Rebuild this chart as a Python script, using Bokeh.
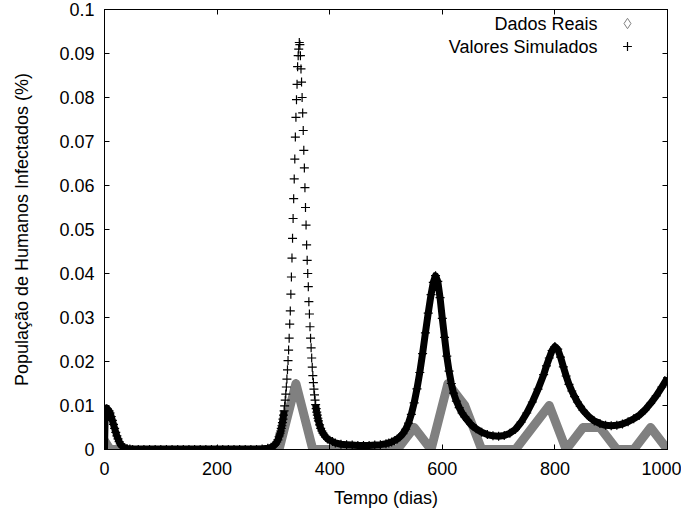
from bokeh.plotting import figure
from bokeh.models import (Range1d, LinearAxis, Legend, LegendItem, FixedTicker, Label,
                          CustomJSTickFormatter)
from bokeh.embed import file_html
from bokeh.resources import INLINE

# ---- data ----
real_x = [0, 10, 40, 70, 100, 130, 160, 190, 220, 250, 280, 310, 340, 370, 400, 430, 460,
          490, 520, 550, 580, 610, 640, 670, 700, 730, 760, 790, 820, 850, 880, 910, 940,
          970, 1000]
real_y = [0.002, 0, 0, 0, 0, 0, 0, 0, 0, 0, 0, 0, 0.015, 0, 0, 0, 0,
          0, 0, 0.005, 0, 0.015, 0.010, 0, 0, 0, 0.005, 0.010, 0, 0.005, 0.005, 0, 0,
          0.005, 0]

sim_x = [0, 1, 3, 5, 8, 10, 12, 14, 16, 18, 20, 22, 24, 26, 28, 30, 33, 36, 40, 45, 50,
         60, 70, 80, 90, 100, 110, 120, 130, 140, 150, 160, 170, 180, 190, 200, 210, 220,
         230, 240, 250, 260, 270, 280, 290, 296, 300, 302, 304, 306, 308, 310,
         311, 312, 313, 314, 315, 316, 317, 318, 319, 320, 321, 322, 323, 324, 325, 326,
         327, 328, 329, 330, 331, 332, 333, 334, 335, 336, 337, 338, 339, 340, 341, 342,
         343, 344, 345, 346, 347, 348, 349, 350, 351, 352, 353, 354, 355, 356, 357, 358,
         359, 360, 361, 362, 363, 364, 365, 366, 367, 368, 369, 370, 371, 372, 373, 374,
         375, 376, 377, 378, 379, 380, 382, 384, 386, 388, 390, 393, 396, 400, 405, 410,
         420, 430, 440, 450, 460, 470, 480, 490, 500, 505, 510, 515, 520, 525, 530, 535,
         540, 545, 550, 555, 560, 565, 570, 575, 580, 584, 588, 592, 596, 600, 604, 608,
         612, 616, 620, 625, 630, 635, 640, 645, 650, 655, 660, 670, 680, 690, 700, 710,
         720, 730, 740, 750, 760, 770, 780, 785, 790, 795, 800, 805, 810, 815, 820, 825,
         830, 835, 840, 845, 850, 860, 870, 880, 890, 900, 910, 920, 930, 940, 950, 960,
         970, 980, 990, 1000]
sim_y = [0.0, 0.0066, 0.0093, 0.0092, 0.0088, 0.0083, 0.0075, 0.0066, 0.0057, 0.0048,
         0.0039, 0.0031, 0.0024, 0.0018, 0.0013, 0.0009, 0.0006, 0.0004, 0.0002, 0.0001,
         0.0,
         0.0, 0.0, 0.0, 0.0, 0.0, 0.0, 0.0, 0.0, 0.0, 0.0, 0.0, 0.0, 0.0, 0.0, 0.0, 0.0,
         0.0, 0.0, 0.0, 0.0, 0.0, 0.0, 0.0001, 0.0003, 0.0005, 0.0008, 0.0010, 0.0013,
         0.0017, 0.0022, 0.0029,
         0.0033, 0.0037, 0.0042, 0.0048, 0.0054, 0.0061, 0.0069, 0.0078, 0.0088, 0.0099,
         0.0112, 0.0126, 0.0142, 0.0160, 0.0181, 0.0202,
         0.0226, 0.0253, 0.0285, 0.0315, 0.0353, 0.0392, 0.0435, 0.0480, 0.0525, 0.0570,
         0.0615, 0.0660, 0.0710, 0.0755, 0.0795, 0.0830,
         0.0870, 0.0895, 0.0910, 0.0925, 0.0920, 0.0895, 0.0865, 0.0835, 0.0800, 0.0765,
         0.0725, 0.0680, 0.0640, 0.0595, 0.0550, 0.0510,
         0.0465, 0.0430, 0.0400, 0.0370, 0.0336, 0.0308, 0.0279, 0.0253, 0.0231, 0.0208,
         0.0187, 0.0168, 0.0152, 0.0137, 0.0124, 0.0112,
         0.0102, 0.0093, 0.0085, 0.0078, 0.0071, 0.0065, 0.0056, 0.0048, 0.0042, 0.0037,
         0.0033, 0.0028, 0.0024, 0.0021, 0.0018, 0.0015,
         0.0012, 0.0011, 0.0010, 0.0009, 0.0009, 0.0009, 0.0010, 0.0011, 0.0013, 0.0015,
         0.0017, 0.0020, 0.0024, 0.0029, 0.0036, 0.0046,
         0.0060, 0.0080, 0.0106, 0.0138, 0.0175, 0.0218, 0.0265, 0.0310, 0.0352, 0.0380,
         0.0395, 0.0382, 0.0345, 0.0298, 0.0255, 0.0212,
         0.0178, 0.0150, 0.0128, 0.0110, 0.0095, 0.0083, 0.0074, 0.0066, 0.0058, 0.0052,
         0.0047, 0.0039, 0.0034, 0.0031, 0.0030, 0.0032,
         0.0037, 0.0046, 0.0062, 0.0083, 0.0108, 0.0137, 0.0170, 0.0190, 0.0208, 0.0225,
         0.0234, 0.0228, 0.0210, 0.0188, 0.0167, 0.0148,
         0.0133, 0.0120, 0.0108, 0.0098, 0.0089, 0.0075, 0.0065, 0.0059, 0.0055, 0.0054,
         0.0055, 0.0058, 0.0063, 0.0070, 0.0078, 0.0090,
         0.0105, 0.0122, 0.0142, 0.0163]

x_ticks = [0, 200, 400, 600, 800, 1000]
y_ticks = [0, 0.01, 0.02, 0.03, 0.04, 0.05, 0.06, 0.07, 0.08, 0.09, 0.1]
y_tick_labels = ["0", "0.01", "0.02", "0.03", "0.04", "0.05", "0.06", "0.07", "0.08",
                 "0.09", "0.1"]

x_title = "Tempo (dias)"
y_title = "População de Humanos Infectados (%)"
labels = ["Dados Reais", "Valores Simulados"]

FONT = "Liberation Sans"
GRAY = "#808080"

p = figure(frame_width=563, frame_height=440, output_backend="svg", toolbar_location=None,
           x_range=Range1d(0, 1000), y_range=Range1d(0, 0.1),
           min_border_left=104, min_border_top=9, min_border_right=14, min_border_bottom=10)
p.xgrid.visible = False
p.ygrid.visible = False
p.outline_line_color = "black"
p.outline_line_width = 1
p.background_fill_color = "white"
p.border_fill_color = "white"

# real data: open diamonds (legend) + thick band
r_real_pts = p.scatter(real_x, real_y, marker="diamond", size=9, fill_color=None,
                       line_color=GRAY, line_width=1)
p.line(real_x, real_y, line_color=GRAY, line_width=9, line_join="round", line_cap="round")

# simulated: dense band + plus markers
cut1 = sim_x.index(319)
cut2 = sim_x.index(375)
p.line(sim_x[:cut1 + 1], sim_y[:cut1 + 1], line_color="black", line_width=7,
       line_join="round")
p.line(sim_x[cut2:], sim_y[cut2:], line_color="black", line_width=7, line_join="round")
r_sim = p.scatter(sim_x, sim_y, marker="cross", size=9, line_color="black", line_width=1.2)

# axes
xa = p.xaxis[0]
ya = p.yaxis[0]
xa.ticker = FixedTicker(ticks=x_ticks)
ya.ticker = FixedTicker(ticks=y_ticks)
ya.major_label_overrides = {t: s for t, s in zip(y_ticks, y_tick_labels)}
for ax in (xa, ya):
    ax.major_tick_in = 5
    ax.major_tick_out = 0
    ax.minor_tick_in = 0
    ax.minor_tick_out = 0
    ax.axis_line_color = "black"
    ax.major_tick_line_color = "black"
    ax.major_label_text_font = FONT
    ax.major_label_text_font_size = "18px"
    ax.major_label_text_color = "black"
    ax.axis_label_text_font = FONT
    ax.axis_label_text_font_size = "18px"
    ax.axis_label_text_font_style = "normal"
    ax.axis_label_text_color = "black"
xa.axis_label = x_title
ya.axis_label = y_title
xa.major_label_standoff = 12
xa.axis_label_standoff = 10
ya.major_label_standoff = 10
ya.axis_label_standoff = 24

blank = CustomJSTickFormatter(code="return ''")
for loc, tk in (("right", y_ticks), ("above", x_ticks)):
    ax = LinearAxis(ticker=FixedTicker(ticks=tk), formatter=blank)
    ax.major_label_standoff = 0
    ax.major_tick_in = 5
    ax.major_tick_out = 0
    ax.minor_tick_in = 0
    ax.minor_tick_out = 0
    ax.axis_line_color = "black"
    p.add_layout(ax, loc)

# legend: text right-aligned, sample marker to its right (gnuplot style)
leg_common = dict(spacing=0, padding=0, margin=0, label_standoff=0,
                  label_text_font_size="10px", border_line_color=None,
                  background_fill_alpha=0)
leg1 = Legend(items=[LegendItem(label=" ", renderers=[r_real_pts])],
              location=(510, 413), glyph_width=26, glyph_height=26, label_height=26,
              **leg_common)
leg2 = Legend(items=[LegendItem(label=" ", renderers=[r_sim])],
              location=(512, 392), glyph_width=22, glyph_height=22, label_height=22,
              **leg_common)
p.add_layout(leg1)
p.add_layout(leg2)
for i, txt in enumerate(labels):
    p.add_layout(Label(x=493, y=426 - 23 * i, x_units="screen", y_units="screen", text=txt,
                       text_align="right", text_baseline="middle", text_font=FONT,
                       text_font_size="18px", text_color="black"))

open("out.html", "w").write(file_html(p, INLINE))
